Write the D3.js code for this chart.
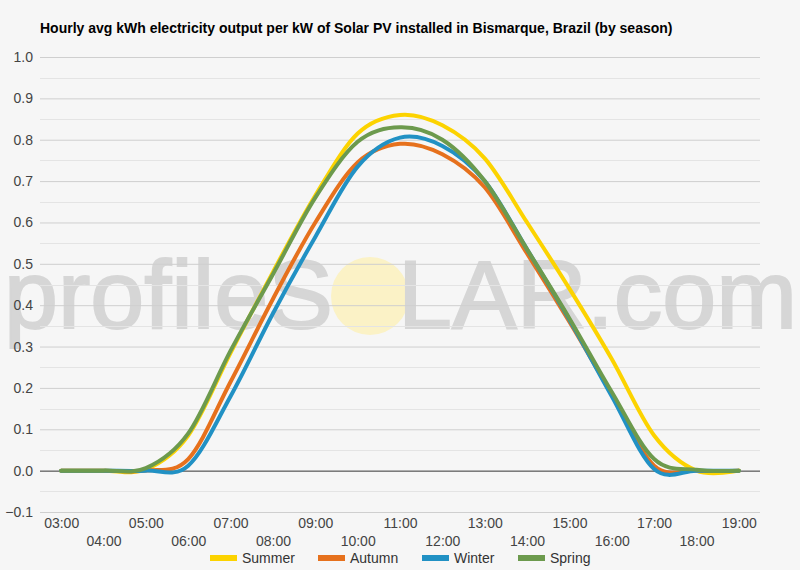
<!DOCTYPE html>
<html>
<head>
<meta charset="utf-8">
<script src="https://cdn.jsdelivr.net/npm/d3@7"></script>
<style>
  body { margin: 0; background: #f6f6f6; font-family: Arial, "Liberation Sans", sans-serif; }
  svg { display: block; }
</style>
</head>
<body>
<svg></svg>
<script>
// chart data
let hours = ['03:00', '04:00', '05:00', '06:00', '07:00', '08:00', '09:00', '10:00', '11:00',
    '12:00', '13:00', '14:00', '15:00', '16:00', '17:00', '18:00', '19:00'];
let seasons = ['Summer', 'Autumn', 'Winter', 'Spring'];
let summer = [0, 0, 0.003, 0.085, 0.285, 0.48, 0.665, 0.815, 0.86, 0.835, 0.755, 0.6, 0.44, 0.27, 0.085, 0, 0];
let autumn = [0, 0, 0, 0.028, 0.215, 0.415, 0.6, 0.745, 0.79, 0.765, 0.685, 0.525, 0.36, 0.185, 0.012, 0, 0];
let winter = [0, 0, 0, 0.012, 0.18, 0.38, 0.565, 0.735, 0.805, 0.785, 0.7, 0.535, 0.365, 0.18, 0.004, 0, 0];
let spring = [0, 0, 0.006, 0.09, 0.29, 0.475, 0.66, 0.795, 0.83, 0.8, 0.7, 0.535, 0.368, 0.19, 0.028, 0.002, 0];
let yTicks = [-0.1, 0, 0.1, 0.2, 0.3, 0.4, 0.5, 0.6, 0.7, 0.8, 0.9, 1.0];

let colors = ['#fcd300', '#e6711d', '#2191c4', '#6c9a4d'];
let series = [summer, autumn, winter, spring];

let width = 800, height = 570;
let margin = { left: 40, right: 40, top: 57, bottom: 58 };
let svg = d3.select('svg').attr('width', width).attr('height', height);

svg.append('rect').attr('width', width).attr('height', height).attr('fill', '#f6f6f6');

// scales
let xScale = d3.scalePoint()
    .domain(hours)
    .range([margin.left, width - margin.right])
    .padding(0.5);

let yScale = d3.scaleLinear()
    .domain([-0.1, 1.0])
    .range([height - margin.bottom, margin.top]);

// watermark
let wm = svg.append('g');
wm.append('circle')
    .attr('cx', 370).attr('cy', 296).attr('r', 39)
    .attr('fill', '#fbf2c6');
wm.append('text')
    .attr('x', 4).attr('y', 328)
    .attr('font-size', 97)
    .attr('fill', '#d6d6d6')
    .attr('stroke', '#d6d6d6')
    .attr('stroke-width', 2)
    .text('profileS');
wm.append('text')
    .attr('x', 797).attr('y', 328)
    .attr('text-anchor', 'end')
    .attr('font-size', 97)
    .attr('fill', '#d6d6d6')
    .attr('stroke', '#d6d6d6')
    .attr('stroke-width', 2)
    .text('LAR.com');

// gridlines (minor at 0.05, major at 0.1)
let minor = d3.range(-0.05, 1.0, 0.1);
svg.append('g').selectAll('line')
    .data(minor)
    .enter()
    .append('line')
    .attr('x1', margin.left).attr('x2', width - margin.right)
    .attr('y1', (d) => Math.round(yScale(d)) + 0.5)
    .attr('y2', (d) => Math.round(yScale(d)) + 0.5)
    .attr('stroke', '#e4e4e4');

let yAxis = d3.axisLeft(yScale)
    .tickValues(yTicks)
    .tickSize(-(width - margin.left - margin.right))
    .tickPadding(7)
    .tickFormat(d3.format('.1f'));

let yg = svg.append('g')
    .attr('transform', `translate(${margin.left}, 0)`)
    .call(yAxis);
yg.select('.domain').remove();
yg.selectAll('.tick line')
    .attr('stroke', (d) => d === 0 ? '#333' : '#cfcfcf');
yg.selectAll('.tick text')
    .attr('font-size', 14)
    .attr('font-family', 'Arial, "Liberation Sans", sans-serif')
    .attr('fill', '#444');

// x axis labels, alternating rows
let xAxis = d3.axisBottom(xScale).tickSize(0).tickPadding(0);
let xg = svg.append('g')
    .attr('transform', `translate(0, ${height - margin.bottom})`)
    .call(xAxis);
xg.select('.domain').remove();
xg.selectAll('.tick text')
    .attr('font-size', 14)
    .attr('font-family', 'Arial, "Liberation Sans", sans-serif')
    .attr('fill', '#444')
    .attr('dy', null)
    .attr('y', (d, i) => i % 2 === 0 ? 16 : 34);

// lines
let line = d3.line()
    .x((d, i) => xScale(hours[i]))
    .y((d) => yScale(d))
    .curve(d3.curveCardinal.tension(0));

svg.append('g').selectAll('path')
    .data(series)
    .enter()
    .append('path')
    .attr('d', (d) => line(d))
    .attr('fill', 'none')
    .attr('stroke', (d, i) => colors[i])
    .attr('stroke-width', 4)
    .attr('stroke-linecap', 'round');

// title
svg.append('text')
    .attr('x', 40).attr('y', 33)
    .attr('font-size', 14)
    .attr('font-weight', 'bold')
    .attr('fill', '#000')
    .text('Hourly avg kWh electricity output per kW of Solar PV installed in Bismarque, Brazil (by season)');

// legend
let legendX = [210, 318, 422, 518];
let legend = svg.append('g').selectAll('g')
    .data(seasons)
    .enter()
    .append('g')
    .attr('transform', (d, i) => `translate(${legendX[i]}, 558)`);
legend.append('rect')
    .attr('x', 0).attr('y', -3)
    .attr('width', 27).attr('height', 6)
    .attr('fill', (d, i) => colors[i]);
legend.append('text')
    .attr('x', 32).attr('y', 5)
    .attr('font-size', 14)
    .attr('fill', '#333')
    .text((d) => d);
</script>
</body>
</html>
